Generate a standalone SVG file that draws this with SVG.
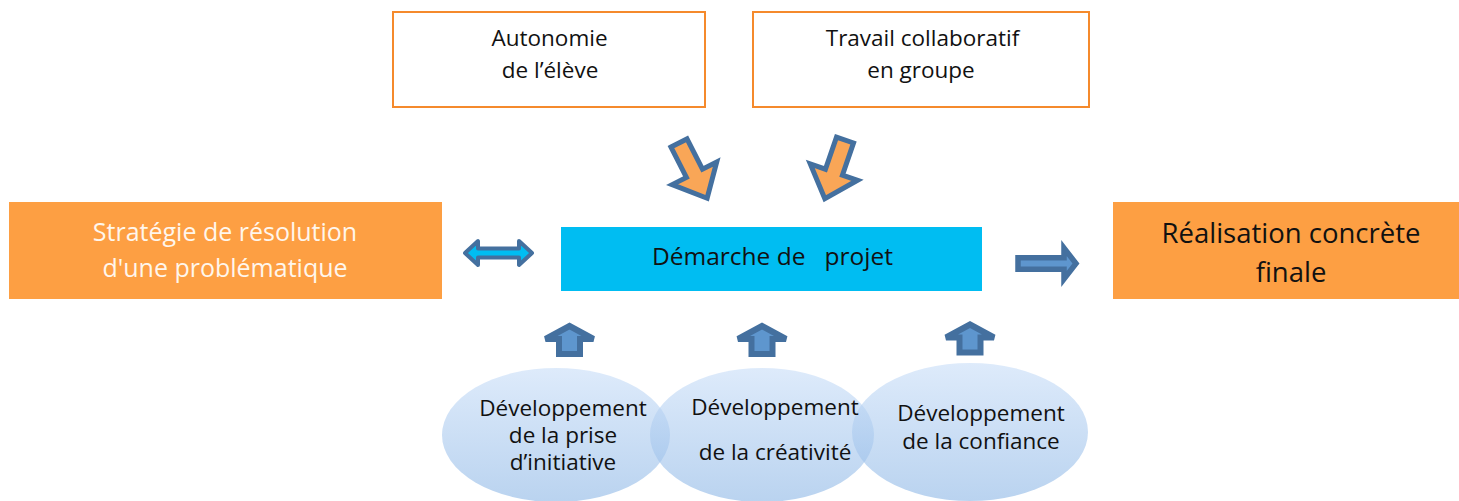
<svg xmlns="http://www.w3.org/2000/svg" width="1459" height="501" viewBox="0 0 1459 501">
  <style>
    text { font-family: "Open Sans", "Liberation Sans", sans-serif; text-anchor: middle; fill: #111; }
    .frame { fill: #fff; stroke: #F58A2C; stroke-width: 2; }
    .block { fill: #FD9F43; }
    .core { fill: #00BDF2; }
    .bubble { fill: url(#bubbleFill); fill-opacity: 0.62; }
    .fat-orange { fill: #F9A657; stroke: #44709F; stroke-width: 5; stroke-linejoin: miter; }
    .fat-blue { fill: #5E96CE; stroke: #44709F; stroke-width: 6; stroke-linejoin: miter; }
    .dbl { fill: #00BDF2; stroke: #44709F; stroke-width: 4; stroke-linejoin: round; }
    .t22 { font-size: 22.5px; }
  </style>
  <defs>
    <linearGradient id="bubbleFill" x1="0" y1="0" x2="0" y2="1">
      <stop offset="0" stop-color="#C9DEF8"/>
      <stop offset="1" stop-color="#8FB8E6"/>
    </linearGradient>
    <!-- down-pointing block arrow, tail centred on the origin -->
    <polygon id="downArrow" points="-9,0 9,0 9,34 25,34 0,62 -25,34 -9,34"/>
    <!-- up-pointing block arrow, centred on x = 0 -->
    <polygon id="upArrow" points="0,326 24,339 10.5,339 10.5,354 -10.5,354 -10.5,339 -24,339"/>
  </defs>

  <g id="node-autonomie">
    <rect class="frame" x="393" y="12" width="312" height="95"/>
    <text class="t22" x="549.5" y="46">Autonomie</text>
    <text class="t22" x="550" y="78">de l’élève</text>
  </g>

  <g id="node-travail">
    <rect class="frame" x="753" y="12" width="336" height="95"/>
    <text class="t22" x="922.5" y="46">Travail collaboratif</text>
    <text class="t22" x="921" y="78">en groupe</text>
  </g>

  <g id="node-strategie">
    <rect class="block" x="9" y="202" width="433" height="97"/>
    <text x="225" y="241" font-size="25" style="fill:#FFF6EC">Stratégie de résolution</text>
    <text x="225" y="277" font-size="25" style="fill:#FFF6EC">d'une problématique</text>
  </g>

  <g id="node-demarche">
    <rect class="core" x="561" y="227" width="421" height="64"/>
    <text x="772.5" y="265" font-size="24.5" xml:space="preserve" style="white-space:pre">Démarche de   projet</text>
  </g>

  <g id="node-realisation">
    <rect class="block" x="1113" y="202" width="346" height="97"/>
    <text x="1291" y="243" font-size="27.5">Réalisation concrète</text>
    <text x="1291" y="282" font-size="27.5">finale</text>
  </g>

  <g id="node-initiative">
    <ellipse class="bubble" cx="556" cy="435" rx="114" ry="67"/>
  </g>
  <g id="node-creativite">
    <ellipse class="bubble" cx="762" cy="435" rx="112" ry="67"/>
  </g>
  <g id="node-confiance">
    <ellipse class="bubble" cx="970" cy="432" rx="118" ry="69"/>
  </g>
  <g id="bubble-labels">
    <text class="t22" x="563" y="416">Développement</text>
    <text class="t22" x="563" y="443">de la prise</text>
    <text class="t22" x="563" y="470">d’initiative</text>
    <text class="t22" x="775" y="415">Développement</text>
    <text class="t22" x="775" y="460">de la créativité</text>
    <text class="t22" x="981" y="421">Développement</text>
    <text class="t22" x="981" y="449">de la confiance</text>
  </g>

  <g id="connectors">
    <use href="#downArrow" class="fat-orange" transform="translate(679,143) rotate(-27)"/>
    <use href="#downArrow" class="fat-orange" transform="translate(845,140) rotate(19)"/>
    <polygon class="dbl" points="465,253 478,241 478,248.5 519,248.5 519,241 532,253 519,265 519,257.5 478,257.5 478,265"/>
    <polygon class="fat-blue" style="stroke-width:5.5" points="1018,257.75 1064,257.75 1064,248 1076,263.5 1064,279 1064,269.25 1018,269.25"/>
    <use href="#upArrow" class="fat-blue" transform="translate(569.5,0)"/>
    <use href="#upArrow" class="fat-blue" transform="translate(762,0)"/>
    <use href="#upArrow" class="fat-blue" transform="translate(970,-1.5)"/>
  </g>
</svg>
